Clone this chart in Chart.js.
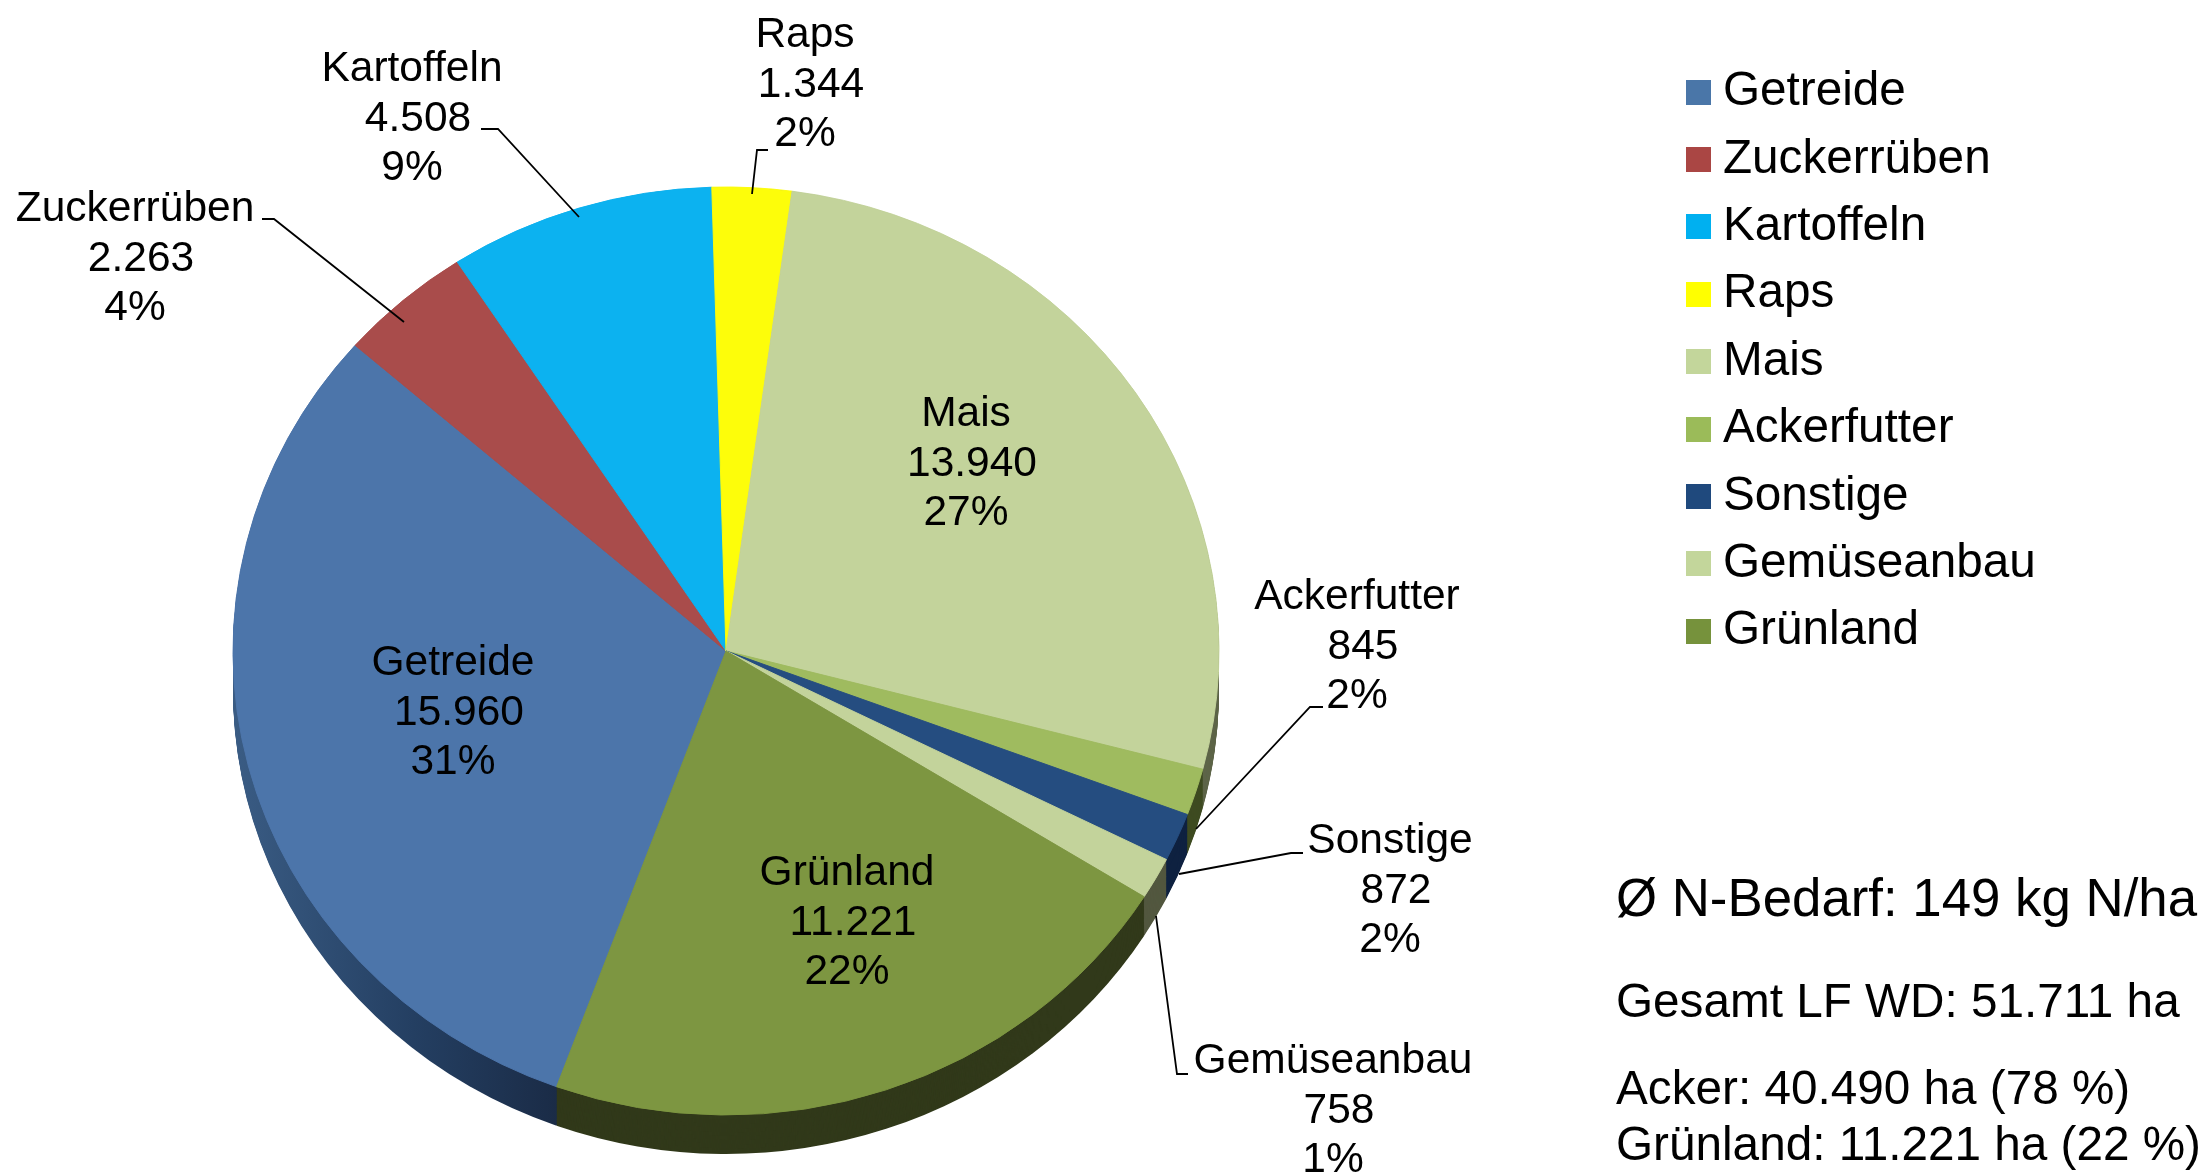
<!DOCTYPE html>
<html lang="de">
<head>
<meta charset="utf-8">
<title>Flächennutzung</title>
<style>html,body{margin:0;padding:0;background:#fff;overflow:hidden}canvas{display:block}</style>
<script src="https://cdn.jsdelivr.net/npm/chart.js@4/dist/chart.umd.min.js"></script>
</head>
<body>
<canvas id="c" width="2205" height="1172"></canvas>
<script>
// --- data ---
const categories = ['Getreide','Zuckerrüben','Kartoffeln','Raps','Mais','Ackerfutter','Sonstige','Gemüseanbau','Grünland'];
const hectares   = [15960,2263,4508,1344,13940,845,872,758,11221];
const percents   = [31,4,9,2,27,2,2,1,22];
const notes      = ['Ø N-Bedarf: 149 kg N/ha','Gesamt LF WD: 51.711 ha','Acker: 40.490 ha (78 %)','Grünland: 11.221 ha (22 %)'];

// --- styles ---
const topColors    = ['#4c75aa','#a94c4b','#0cb2f0','#fdfd0a','#c3d39b','#9fbb5f','#254d80','#c3d39b','#7d9641'];
const legendColors = ['#4a76a8','#aa4644','#00b0f0','#ffff00','#c3d69b','#9bbb59','#1f497d','#c3d69b','#76923c'];
const sideColors   = [null,'#5a2726','#07607f','#88880a','#5e6549','#3f4b20','#0f2240','#52573f','#31391a'];
const FONT = '"Liberation Sans", Arial, sans-serif';
const CX = 726, CY = 651, RX = 493, RY = 464, DEPTH = 39;
const SY = RY / RX;
// layout of the data labels: centre x and first baseline
const labelSpots = [[453,675],[135,221],[412,81],[805,47],[966,426],[1357,609],[1390,853],[1333,1073],[847,885]];
const LINE_GAP = 49.6, VALUE_DX = 6;
const leaderPaths = [null,
  [[262,219],[274,219],[404,322]],
  [[481,129],[498,129],[579,217]],
  [[768,150],[757,150],[752,194]],
  null,
  [[1323,707],[1310,707],[1196,829]],
  [[1303,853],[1291,853],[1179,874]],
  [[1188,1074],[1177,1074],[1156,916]],
  null];
const noteSpots = [[1616,916],[1616,1017],[1616,1104],[1616,1160]];
const noteSizes = [52.8,47.7,47.7,47.7];

const fmt = v => String(v).replace(/\B(?=(\d{3})+$)/g,'.');
const swatch = color => {
  const s = document.createElement('canvas'); s.width = 25; s.height = 25;
  const g = s.getContext('2d'); g.fillStyle = color; g.fillRect(0,0,25,25); return s;
};

const pie3d = {
  id:'pie3d',
  afterLayout(chart){
    chart.chartArea = {left:CX-RX,right:CX+RX,top:CY-RX,bottom:CY+RX,width:RX*2,height:RX*2};
    const l = chart.legend;
    l.left = 1677.9; l.right = l.left + l.width;
    l.top = 48.5; l.bottom = l.top + l.height;
  },
  beforeDatasetsDraw(chart){
    const ctx = chart.ctx;
    ctx.save();
    ctx.translate(CX,CY); ctx.scale(1,SY); ctx.translate(-CX,-CY);
    const grad = ctx.createLinearGradient(CX-RX,0,560,0);
    grad.addColorStop(0,'#3a5c84'); grad.addColorStop(0.55,'#243f62'); grad.addColorStop(1,'#1a2b46');
    const arcs = chart.getDatasetMeta(0).data;
    for(let d = DEPTH/SY; d >= 0; d -= 1){
      arcs.forEach((a,i)=>{
        ctx.fillStyle = sideColors[i] || grad;
        ctx.beginPath();
        ctx.moveTo(a.x,a.y+d);
        ctx.arc(a.x,a.y+d,a.outerRadius,a.startAngle,a.endAngle);
        ctx.closePath();
        ctx.fill();
      });
    }
  },
  afterDatasetsDraw(chart){ chart.ctx.restore(); },
  afterDraw(chart){
    const ctx = chart.ctx;
    ctx.save();
    ctx.strokeStyle = '#000'; ctx.lineWidth = 1.8;
    leaderPaths.forEach(p=>{
      if(!p) return;
      ctx.beginPath();
      p.forEach((q,i)=> i ? ctx.lineTo(q[0],q[1]) : ctx.moveTo(q[0],q[1]));
      ctx.stroke();
    });
    ctx.fillStyle = '#000';
    ctx.textBaseline = 'alphabetic';
    ctx.textAlign = 'center';
    ctx.font = '42.5px ' + FONT;
    categories.forEach((name,i)=>{
      const [x,y] = labelSpots[i];
      ctx.fillText(name,x,y);
      ctx.fillText(fmt(hectares[i]),x+VALUE_DX,y+LINE_GAP);
      ctx.fillText(percents[i]+'%',x,y+2*LINE_GAP);
    });
    ctx.textAlign = 'left';
    notes.forEach((t,i)=>{
      ctx.font = noteSizes[i]+'px '+FONT;
      ctx.fillText(t,noteSpots[i][0],noteSpots[i][1]);
    });
    ctx.restore();
  }
};

new Chart(document.getElementById('c'),{
  type:'pie',
  data:{labels:categories,datasets:[{
    data:hectares,
    backgroundColor:topColors,
    borderColor:topColors,
    borderWidth:1,
    clip:false
  }]},
  plugins:[pie3d],
  options:{
    responsive:false,
    animation:false,
    rotation:200.1,
    radius:RX,
    plugins:{
      tooltip:{enabled:false},
      legend:{
        position:'right',
        align:'start',
        labels:{
          font:{family:FONT,size:47.7},
          color:'#000',
          padding:19.7,
          boxHeight:25,
          usePointStyle:true,
          pointStyleWidth:1.5,
          generateLabels:()=>categories.map((t,i)=>({
            text:t,fontColor:'#000',fillStyle:legendColors[i],strokeStyle:legendColors[i],
            lineWidth:0,pointStyle:swatch(legendColors[i]),hidden:false,index:i
          }))
        }
      }
    }
  }
});
</script>
</body>
</html>
